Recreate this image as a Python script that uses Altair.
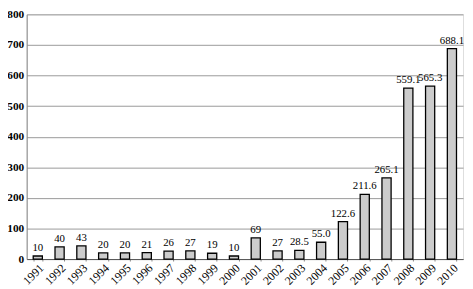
import altair as alt
import pandas as pd

years = [str(y) for y in range(1991, 2011)]
values = [10, 40, 43, 20, 20, 21, 26, 27, 19, 10, 69, 27, 28.5, 55.0, 122.6, 211.6, 265.1, 559.1, 565.3, 688.1]
labels = ["10", "40", "43", "20", "20", "21", "26", "27", "19", "10", "69", "27", "28.5", "55.0", "122.6", "211.6", "265.1", "559.1", "565.3", "688.1"]

df = pd.DataFrame({"year": years, "value": values, "label": labels})

FONT = "Liberation Serif"

x = alt.X("year:N", sort=years, title=None,
          scale=alt.Scale(paddingInner=0.58, paddingOuter=0.3),
          axis=alt.Axis(labelAngle=-45, labelAlign="right", labelBaseline="top",
                        labelFont=FONT, labelFontSize=12, labelColor="black",
                        labelOverlap=False,
                        tickBand="extent", tickSize=2, tickColor="#888",
                        domainColor="#555", labelPadding=1))
y = alt.Y("value:Q", title=None,
          scale=alt.Scale(domain=[0, 800], nice=False),
          axis=alt.Axis(values=list(range(0, 801, 100)), labelFont=FONT, labelFontSize=11.5,
                        labelFontWeight="bold", labelColor="black", labelOverlap=False,
                        gridColor="#999", gridWidth=1, ticks=False, domainColor="#888",
                        labelPadding=3))

base = alt.Chart(df).encode(x=x, y=y)
bars = base.mark_bar(color="#cccccc", stroke="black", strokeWidth=1.3)
text = base.mark_text(font=FONT, fontSize=11, dy=-8, color="black").encode(text="label:N")

chart = (bars + text).properties(
    width=444, height=249,
    autosize=alt.AutoSizeParams(type="none"),
    padding={"left": 19, "top": 4, "right": 2, "bottom": 28},
).configure_view(stroke="#888", strokeWidth=1).configure(background="white")

chart.save("out.html", embed_options={"renderer": "svg", "actions": False})
